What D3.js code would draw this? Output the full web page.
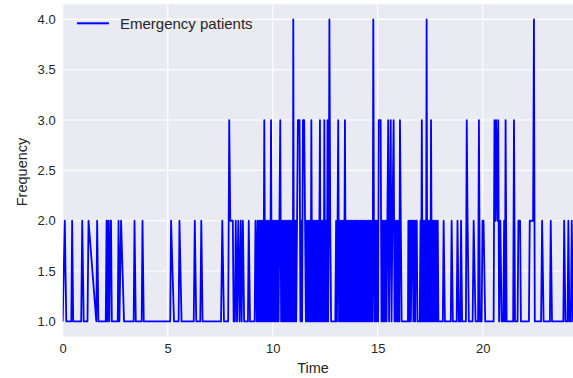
<!DOCTYPE html>
<html>
<head>
<meta charset="utf-8">
<script src="https://cdn.jsdelivr.net/npm/d3@7"></script>
<style>
  html, body { margin: 0; padding: 0; background: #fff; }
  svg { display: block; font-family: "Liberation Sans", Arial, sans-serif; }
</style>
</head>
<body>
<div id="chart"></div>
<script>
// series: time (hours) and number of patients
const seriesName = "Emergency patients";
const xTicks = [0, 5, 10, 15, 20];
const yTicks = [1.0, 1.5, 2.0, 2.5, 3.0, 3.5, 4.0];

const time = [
  0.00, 0.10, 0.17, 0.41, 0.45, 0.50, 0.88, 0.93, 1.00, 1.18, 1.23, 1.60, 1.64, 1.70,
  2.05, 2.09, 2.13, 2.17, 2.22, 2.27, 2.30, 2.34, 2.62, 2.66, 2.70, 2.78, 2.92,
  3.38, 3.42, 3.48, 3.76, 3.80, 3.86, 5.12, 5.16, 5.30, 5.52, 5.56, 5.66,
  6.24, 6.29, 6.36, 6.55, 6.60, 6.66, 7.54, 7.60, 7.68, 7.88, 7.93, 7.98, 8.10, 8.14,
  8.20, 8.24, 8.30, 8.36, 8.42, 8.48, 8.52, 8.58, 8.64, 8.82, 8.86, 8.92, 9.14, 9.18, 9.24,
  9.28, 9.32, 9.36, 9.40, 9.44, 9.48, 9.52, 9.56, 9.60, 9.64,
  9.68, 9.72, 9.76, 9.80, 9.84, 9.88, 9.92, 9.96, 10.00, 10.04,
  10.08, 10.12, 10.16, 10.20, 10.24, 10.28, 10.32, 10.36, 10.40, 10.44,
  10.48, 10.52, 10.56, 10.60, 10.64, 10.68, 10.72, 10.76, 10.80, 10.84,
  10.88, 10.92, 10.96, 10.98, 11.00, 11.04, 11.08, 11.12, 11.16, 11.20,
  11.28, 11.32, 11.36, 11.40, 11.44, 11.50, 11.54, 11.58, 11.62, 11.66,
  11.70, 11.74, 11.78, 11.81, 11.84, 11.88, 11.92, 11.96, 12.00, 12.04,
  12.08, 12.12, 12.16, 12.20, 12.25, 12.28, 12.32, 12.36, 12.40, 12.43,
  12.46, 12.50, 12.54, 12.58, 12.61, 12.64, 12.67, 12.70, 12.74, 12.78, 12.98,
  13.02, 13.06, 13.09, 13.12, 13.16, 13.20, 13.24, 13.28, 13.32, 13.36,
  13.40, 13.44, 13.48, 13.52, 13.56, 13.60, 13.64, 13.68, 13.72, 13.76,
  13.80, 13.84, 13.88, 13.92, 13.96, 14.00, 14.04, 14.08, 14.12, 14.16,
  14.20, 14.24, 14.28, 14.32, 14.36, 14.40, 14.44, 14.48, 14.52, 14.56,
  14.60, 14.64, 14.68, 14.72, 14.76, 14.79, 14.82, 14.86, 14.90, 14.94,
  14.98, 15.02, 15.05, 15.14, 15.18, 15.22, 15.26, 15.30, 15.34, 15.38,
  15.42, 15.46, 15.50, 15.54, 15.58, 15.62, 15.66, 15.70, 15.76, 15.80,
  15.84, 15.88, 15.92, 15.96, 16.00, 16.03, 16.06, 16.10, 16.14, 16.44,
  16.46, 16.50, 16.54, 16.58, 16.62, 16.66, 16.70, 16.74, 16.78, 16.82,
  16.86, 16.89, 17.00, 17.04, 17.07, 17.10, 17.14, 17.18, 17.22, 17.26,
  17.30, 17.33, 17.36, 17.40, 17.44, 17.48, 17.51, 17.54, 17.58, 17.62,
  17.66, 17.70, 17.74, 17.78, 17.82, 17.86, 17.89,
  18.10, 18.14, 18.20, 18.48, 18.52, 18.58, 18.76, 18.80, 18.86, 18.93, 18.97, 19.02,
  19.20, 19.24, 19.28, 19.34, 19.52, 19.57, 19.66, 19.78, 19.82, 19.87, 19.95, 19.99, 20.04, 20.12,
  20.52, 20.56, 20.60, 20.64, 20.70, 20.74, 20.78, 20.84, 20.90, 20.98, 21.02, 21.06, 21.09, 21.14,
  21.45, 21.49, 21.54, 21.66, 21.70, 21.78, 21.82, 22.20, 22.24, 22.40, 22.44, 22.48,
  22.78, 22.83, 22.90, 23.20, 23.24, 23.30, 23.84, 23.88, 23.94, 24.04, 24.08, 24.13, 24.20, 24.24, 24.30, 24.40
];

const freq = [
  1, 2, 1, 1, 2, 1, 1, 2, 1, 1, 2, 1, 2, 1,
  1, 2, 1, 2, 1, 2, 2, 1, 1, 2, 1, 2, 1,
  1, 2, 1, 1, 2, 1, 1, 2, 1, 1, 2, 1,
  1, 2, 1, 1, 2, 1, 1, 2, 1, 1, 3, 2, 2, 1,
  1, 2, 1, 2, 1, 2, 1, 2, 1, 1, 2, 1, 1, 2, 1,
  2, 1, 2, 1, 2, 1, 2, 1, 3, 1,
  2, 1, 2, 1, 2, 1, 3, 1, 2, 1,
  2, 1, 2, 1, 2, 1, 2, 3, 1, 2,
  1, 2, 1, 2, 1, 2, 1, 2, 1, 2,
  1, 2, 1, 4, 2, 1, 2, 1, 2, 3,
  3, 1, 2, 1, 3, 3, 2, 1, 2, 1,
  2, 1, 2, 1, 3, 1, 2, 1, 2, 1,
  2, 1, 2, 1, 3, 1, 2, 1, 2, 1,
  3, 1, 2, 1, 3, 1, 2, 4, 2, 1, 1,
  2, 1, 2, 3, 1, 2, 1, 2, 1, 2,
  1, 3, 1, 2, 1, 2, 1, 2, 1, 2,
  1, 2, 1, 2, 1, 2, 1, 2, 1, 2,
  1, 2, 1, 2, 1, 2, 1, 2, 1, 2,
  1, 2, 1, 2, 1, 4, 2, 1, 2, 1,
  2, 1, 3, 3, 1, 2, 1, 2, 1, 2,
  1, 2, 3, 1, 2, 3, 1, 2, 3, 1,
  2, 1, 2, 1, 2, 1, 3, 2, 1, 1,
  2, 1, 2, 1, 2, 2, 1, 2, 1, 2,
  2, 1, 1, 2, 1, 3, 1, 2, 1, 2,
  1, 4, 1, 2, 1, 2, 1, 3, 1, 2,
  1, 2, 1, 2, 1, 2, 1,
  1, 2, 1, 1, 2, 1, 1, 2, 1, 1, 2, 1,
  1, 3, 2, 1, 1, 2, 1, 1, 3, 1, 1, 2, 2, 1,
  1, 3, 2, 3, 2, 3, 1, 2, 1, 1, 2, 1, 3, 1,
  1, 3, 1, 1, 2, 2, 1, 1, 2, 2, 4, 1,
  1, 2, 1, 1, 2, 1, 1, 2, 1, 1, 2, 1, 1, 2, 1, 1
];

if (time.length !== freq.length) console.error("length mismatch", time.length, freq.length);
const data = d3.zip(time, freq);

const width = 573, height = 378;
const plot = { left: 62.7, right: 573, top: 4.3, bottom: 336.5 };

const svg = d3.select("#chart")
  .append("svg")
  .attr("width", width)
  .attr("height", height);

const x = d3.scaleLinear().domain([0, 24.3]).range([plot.left, plot.right]);
const y = d3.scaleLinear().domain([0.85, 4.15]).range([plot.bottom, plot.top]);

svg.append("rect")
  .attr("x", plot.left)
  .attr("y", plot.top)
  .attr("width", plot.right - plot.left)
  .attr("height", plot.bottom - plot.top)
  .attr("fill", "#EAEAF2");

svg.append("clipPath").attr("id", "clip")
  .append("rect")
  .attr("x", plot.left)
  .attr("y", plot.top)
  .attr("width", plot.right - plot.left)
  .attr("height", plot.bottom - plot.top);

// grid
svg.append("g")
  .selectAll("line")
  .data(xTicks)
  .enter().append("line")
  .attr("x1", d => x(d)).attr("x2", d => x(d))
  .attr("y1", plot.top).attr("y2", plot.bottom)
  .attr("stroke", "#fff").attr("stroke-width", 1.1);

svg.append("g")
  .selectAll("line")
  .data(yTicks)
  .enter().append("line")
  .attr("x1", plot.left).attr("x2", plot.right)
  .attr("y1", d => y(d)).attr("y2", d => y(d))
  .attr("stroke", "#fff").attr("stroke-width", 1.1);

// axes
const xAxis = svg.append("g")
  .attr("transform", "translate(0," + plot.bottom + ")")
  .call(d3.axisBottom(x).tickValues(xTicks).tickSize(0).tickPadding(7).tickFormat(d3.format("d")));
const yAxis = svg.append("g")
  .attr("transform", "translate(" + plot.left + ",0)")
  .call(d3.axisLeft(y).tickValues(yTicks).tickSize(0).tickPadding(7).tickFormat(d3.format(".1f")));

[xAxis, yAxis].forEach(a => {
  a.select(".domain").remove();
  a.selectAll("text")
    .attr("font-size", "13px")
    .attr("font-family", "'Liberation Sans', Arial, sans-serif")
    .attr("fill", "#262626");
});

svg.append("text")
  .attr("x", 313)
  .attr("y", 372.5)
  .attr("text-anchor", "middle")
  .attr("font-size", "14.5px")
  .attr("fill", "#262626")
  .text("Time");

svg.append("text")
  .attr("transform", "translate(27," + 172 + ") rotate(-90)")
  .attr("text-anchor", "middle")
  .attr("font-size", "14.5px")
  .attr("fill", "#262626")
  .text("Frequency");

// the series
const line = d3.line()
  .x(d => x(d[0]))
  .y(d => y(d[1]));

svg.append("path")
  .datum(data)
  .attr("clip-path", "url(#clip)")
  .attr("d", line)
  .attr("fill", "none")
  .attr("stroke", "#0000FF")
  .attr("stroke-width", 1.8)
  .attr("stroke-linejoin", "round");

// legend
const legend = svg.append("g");
legend.append("line")
  .attr("x1", 77).attr("x2", 109)
  .attr("y1", 23.3).attr("y2", 23.3)
  .attr("stroke", "#0000FF")
  .attr("stroke-width", 2);
legend.append("text")
  .attr("x", 120)
  .attr("y", 28.5)
  .attr("font-size", "15px")
  .attr("fill", "#262626")
  .text(seriesName);
</script>
</body>
</html>
